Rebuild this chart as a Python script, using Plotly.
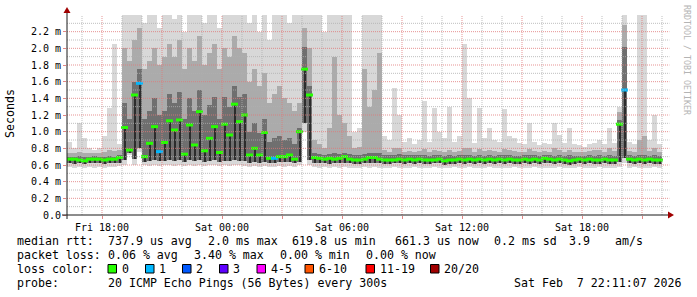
import plotly.graph_objects as go
import pandas as pd

# ------------------------------------------------------------------
# DATA  (round-trip times in milliseconds, one value per 15-min bin)
# ------------------------------------------------------------------
median = [
    0.67, 0.67, 0.66, 0.65, 0.67, 0.67, 0.67, 0.66, 0.67, 0.67,
    0.69, 1.05, 0.78, 1.44, 1.58, 0.70, 0.86, 1.06, 0.76, 0.87,
    1.13, 1.02, 1.14, 0.73, 1.08, 0.84, 1.24, 0.77, 0.92, 1.06,
    0.75, 1.09, 0.96, 1.33, 1.12, 1.20, 0.72, 0.80, 0.72, 0.99,
    0.68, 0.68, 0.70, 0.70, 0.72, 0.67, 1.00, 1.75, 1.44, 0.69,
    0.68, 0.67, 0.68, 0.67, 0.68, 0.70, 0.67, 0.66, 0.66, 0.67,
    0.69, 0.69, 0.67, 0.66, 0.66, 0.66, 0.67, 0.66, 0.67, 0.66,
    0.67, 0.66, 0.66, 0.66, 0.67, 0.65, 0.66, 0.66, 0.67, 0.66,
    0.67, 0.66, 0.67, 0.66, 0.67, 0.66, 0.67, 0.66, 0.67, 0.66,
    0.66, 0.67, 0.66, 0.67, 0.66, 0.68, 0.67, 0.66, 0.67, 0.66,
    0.65, 0.66, 0.67, 0.66, 0.67, 0.66, 0.66, 0.67, 0.66, 0.66,
    1.09, 1.50, 0.67, 0.66, 0.67, 0.66, 0.67, 0.66, 0.66,
]
lost_pings = [
    0, 0, 0, 0, 0, 0, 0, 0, 0, 0,
    0, 0, 0, 0, 1, 0, 0, 0, 1, 0,
    0, 0, 0, 0, 0, 0, 0, 0, 0, 0,
    0, 0, 0, 0, 0, 0, 0, 0, 0, 0,
    0, 1, 0, 0, 0, 0, 0, 0, 0, 0,
    0, 0, 0, 0, 0, 0, 0, 0, 0, 0,
    0, 0, 0, 0, 0, 0, 0, 0, 0, 0,
    0, 0, 0, 0, 0, 0, 0, 0, 0, 0,
    0, 0, 0, 0, 0, 0, 0, 0, 0, 0,
    0, 0, 0, 0, 0, 0, 0, 0, 0, 0,
    0, 0, 0, 0, 0, 0, 0, 0, 0, 0,
    0, 1, 0, 0, 0, 0, 0, 0, 0,
]
ping_min = [
    0.58, 0.57, 0.58, 0.57, 0.58, 0.57, 0.58, 0.57, 0.58, 0.58,
    0.59, 0.60, 0.72, 0.60, 0.76, 0.60, 0.59, 0.60, 0.59, 0.60,
    0.60, 0.59, 0.60, 0.59, 0.60, 0.59, 0.60, 0.59, 0.60, 0.60,
    0.59, 0.60, 0.59, 0.60, 0.60, 0.59, 0.58, 0.59, 0.58, 0.59,
    0.58, 0.58, 0.59, 0.58, 0.59, 0.58, 0.60, 1.00, 0.60, 0.58,
    0.57, 0.58, 0.56, 0.58, 0.57, 0.58, 0.57, 0.56, 0.57, 0.58,
    0.57, 0.58, 0.57, 0.56, 0.57, 0.58, 0.57, 0.57, 0.56, 0.58,
    0.57, 0.56, 0.57, 0.58, 0.57, 0.56, 0.57, 0.58, 0.56, 0.57,
    0.58, 0.57, 0.56, 0.57, 0.58, 0.57, 0.56, 0.57, 0.57, 0.58,
    0.57, 0.56, 0.57, 0.58, 0.57, 0.56, 0.57, 0.57, 0.58, 0.57,
    0.56, 0.57, 0.58, 0.57, 0.56, 0.57, 0.58, 0.57, 0.56, 0.57,
    0.58, 0.62, 0.57, 0.58, 0.57, 0.56, 0.57, 0.58, 0.57,
]
ping_low = [
    0.62, 0.61, 0.62, 0.61, 0.62, 0.62, 0.62, 0.61, 0.62, 0.62,
    0.63, 0.66, 0.75, 0.67, 0.80, 0.64, 0.65, 0.66, 0.65, 0.65,
    0.66, 0.65, 0.66, 0.64, 0.66, 0.65, 0.66, 0.64, 0.65, 0.66,
    0.64, 0.65, 0.65, 0.66, 0.65, 0.65, 0.63, 0.64, 0.63, 0.64,
    0.63, 0.63, 0.64, 0.64, 0.64, 0.63, 0.64, 1.10, 0.66, 0.63,
    0.62, 0.62, 0.61, 0.62, 0.62, 0.63, 0.62, 0.61, 0.61, 0.62,
    0.62, 0.63, 0.62, 0.61, 0.61, 0.62, 0.62, 0.61, 0.62, 0.61,
    0.62, 0.61, 0.61, 0.62, 0.62, 0.60, 0.61, 0.61, 0.62, 0.61,
    0.62, 0.61, 0.62, 0.61, 0.62, 0.61, 0.62, 0.61, 0.62, 0.61,
    0.61, 0.62, 0.61, 0.62, 0.61, 0.62, 0.62, 0.61, 0.62, 0.61,
    0.60, 0.61, 0.62, 0.61, 0.62, 0.61, 0.61, 0.62, 0.61, 0.61,
    0.64, 0.68, 0.62, 0.61, 0.62, 0.61, 0.62, 0.61, 0.61,
]
ping_p75 = [
    0.70, 0.70, 0.71, 0.70, 0.70, 0.71, 0.70, 0.70, 0.71, 0.70,
    0.72, 1.35, 1.15, 1.60, 1.75, 1.15, 1.25, 1.40, 1.20, 1.25,
    1.45, 1.35, 1.48, 1.15, 1.40, 1.25, 1.50, 1.20, 1.32, 1.42,
    1.15, 1.42, 1.30, 1.55, 1.42, 1.45, 1.00, 1.10, 0.98, 1.15,
    0.88, 0.92, 0.95, 0.90, 0.92, 0.85, 1.05, 2.02, 1.55, 0.74,
    0.73, 0.72, 0.73, 0.75, 0.73, 0.75, 0.73, 0.72, 0.72, 0.73,
    0.74, 0.75, 0.74, 0.72, 0.72, 0.72, 0.73, 0.72, 0.72, 0.72,
    0.72, 0.72, 0.71, 0.72, 0.72, 0.71, 0.72, 0.71, 0.72, 0.72,
    0.72, 0.71, 0.72, 0.71, 0.72, 0.71, 0.72, 0.72, 0.72, 0.71,
    0.71, 0.72, 0.72, 0.72, 0.71, 0.72, 0.72, 0.71, 0.72, 0.71,
    0.72, 0.71, 0.71, 0.71, 0.72, 0.71, 0.72, 0.71, 0.72, 0.71,
    1.14, 2.02, 0.72, 0.71, 0.72, 0.72, 0.71, 0.72, 0.71,
]
ping_p90 = [
    0.74, 0.75, 0.76, 0.74, 0.74, 0.75, 0.74, 0.76, 0.78, 0.77,
    0.78, 2.00, 1.85, 2.10, 2.25, 1.75, 1.85, 2.00, 1.80, 1.90,
    2.05, 1.90, 2.10, 1.75, 2.00, 1.85, 2.15, 1.80, 1.95, 2.05,
    1.75, 2.00, 1.90, 2.15, 2.00, 1.95, 1.60, 1.75, 1.55, 1.70,
    1.35, 1.45, 1.55, 1.40, 1.35, 1.25, 1.35, 2.25, 2.00, 0.90,
    0.85, 0.80, 1.05, 1.90, 1.20, 1.10, 0.95, 0.80, 0.82, 1.75,
    1.30, 1.50, 1.95, 0.78, 0.76, 0.80, 0.80, 0.76, 0.77, 0.76,
    0.77, 0.79, 0.76, 0.78, 0.77, 0.76, 0.78, 0.76, 0.77, 0.80,
    0.80, 0.76, 0.79, 0.77, 0.78, 0.77, 0.76, 0.79, 0.78, 0.77,
    0.76, 0.76, 0.79, 0.77, 0.76, 0.77, 0.76, 0.80, 0.78, 0.76,
    0.78, 0.76, 0.76, 0.76, 0.77, 0.78, 0.78, 0.76, 0.80, 0.77,
    1.24, 2.28, 0.77, 0.76, 0.90, 0.95, 0.77, 0.80, 0.76,
]
ping_max = [
    0.88, 0.80, 1.10, 0.92, 0.80, 0.78, 0.80, 0.95, 1.28, 2.05,
    0.85, 2.40, 2.40, 2.40, 2.40, 2.30, 2.40, 2.40, 2.25, 2.40,
    2.40, 2.35, 2.40, 2.20, 2.40, 2.40, 2.40, 2.30, 2.40, 2.40,
    2.25, 2.40, 2.40, 2.40, 2.40, 2.40, 2.30, 2.40, 2.20, 2.40,
    2.10, 2.40, 2.40, 2.40, 2.30, 2.40, 2.40, 2.40, 2.40, 2.40,
    2.40, 2.20, 2.40, 2.40, 2.40, 2.40, 2.40, 1.00, 1.05, 2.40,
    2.40, 2.40, 2.40, 0.95, 0.90, 1.52, 1.20, 0.88, 0.92, 0.85,
    0.90, 1.37, 0.88, 1.29, 1.00, 0.92, 1.30, 0.88, 0.95, 2.05,
    1.40, 0.86, 1.29, 0.92, 1.05, 0.90, 0.88, 1.27, 0.95, 0.92,
    0.86, 0.85, 1.10, 0.88, 0.84, 0.86, 0.85, 1.10, 0.96, 0.86,
    1.05, 0.85, 0.84, 0.82, 0.85, 0.86, 0.90, 0.85, 1.05, 0.86,
    1.30, 2.40, 0.88, 0.85, 2.40, 2.40, 0.90, 1.20, 0.85,
]

x_major_hours = [18, 21, 24, 27, 30, 33, 36, 39, 42, 45]
x_major_labels = ["Fri 18:00", "", "Sat 00:00", "", "Sat 06:00", "",
                  "Sat 12:00", "", "Sat 18:00", ""]
y_major_vals = [0.0, 0.2, 0.4, 0.6, 0.8, 1.0, 1.2, 1.4, 1.6, 1.8, 2.0, 2.2]
y_major_labels = ["0.0", "0.2 m", "0.4 m", "0.6 m", "0.8 m", "1.0 m",
                  "1.2 m", "1.4 m", "1.6 m", "1.8 m", "2.0 m", "2.2 m"]

loss_names = ["0", "1", "2", "3", "4-5", "6-10", "11-19", "20/20"]
loss_colors = ["#26ff00", "#00b8ff", "#0059ff", "#5e00ff",
               "#ff00ff", "#ff5500", "#ff0000", "#a10000"]

rtt_stats = ["median rtt:", "737.9 us avg", "2.0 ms max", "619.8 us min",
             "661.3 us now", "0.2 ms sd", "3.9", "am/s"]
loss_stats = ["packet loss:", "0.06 % avg", "3.40 % max", "0.00 % min", "0.00 % now"]
probe_text = ["probe:", "20 ICMP Echo Pings (56 Bytes) every 300s",
              "Sat Feb  7 22:11:07 2026"]

n = len(median)
for arr in (lost_pings, ping_min, ping_low, ping_p75, ping_p90, ping_max):
    assert len(arr) == n

# ------------------------------------------------------------------
# geometry / style
# ------------------------------------------------------------------
day0 = pd.Timestamp("2026-02-06 00:00")
t_start = pd.Timestamp("2026-02-06 16:15")
t_end = pd.Timestamp("2026-02-07 22:15")
step = pd.Timedelta(minutes=15)
times = [t_start + step * i + step / 2 for i in range(n)]
bin_ms = step.total_seconds() * 1000

L, T, W, H = 67, 15, 600, 200


def px(x):
    return (x - L) / W


def py(y):
    return (T + H - y) / H


MONO = "DejaVu Sans Mono"


def loss_color(k):
    if k <= 0:
        return loss_colors[0]
    if k == 1:
        return loss_colors[1]
    if k == 2:
        return loss_colors[2]
    if k == 3:
        return loss_colors[3]
    if k <= 5:
        return loss_colors[4]
    if k <= 10:
        return loss_colors[5]
    if k <= 19:
        return loss_colors[6]
    return loss_colors[7]


fig = go.Figure()


def band(lo, hi, color, width):
    fig.add_trace(go.Bar(
        x=times, y=[h - l for l, h in zip(lo, hi)], base=lo, width=width,
        marker=dict(color=color, line=dict(width=0)), hoverinfo="skip"))


band(ping_min, ping_max, "#d8d8d8", bin_ms * 1.03)
band(ping_low, ping_p90, "#ababab", bin_ms * 1.03)
band(ping_low, ping_p75, "#6f6f6f", bin_ms * 1.03)
band(ping_low, median, "#2c2c2c", bin_ms * 0.4)

fig.add_trace(go.Scatter(
    x=times, y=median, mode="markers", hoverinfo="skip",
    marker=dict(symbol="line-ew", size=5,
                line=dict(width=3, color=[loss_color(k) for k in lost_pings]))))

shapes = []
MINOR = "rgba(175,175,175,0.8)"
MAJOR = "rgba(225,120,120,0.8)"
# vertical grid (hourly minor, 3-hourly major)
for h in range(17, 47):
    xv = day0 + pd.Timedelta(hours=h)
    shapes.append(dict(type="line", xref="x", yref="paper", x0=xv, x1=xv,
                       y0=0, y1=1, layer="above",
                       line=dict(color=MAJOR if h % 3 == 0 else MINOR,
                                 width=1, dash="1px,1px")))
# horizontal grid
for k in range(1, 24):
    yv = k / 10
    shapes.append(dict(type="line", xref="paper", yref="y", x0=0, x1=1.004,
                       y0=yv, y1=yv, layer="above",
                       line=dict(color=MAJOR if k % 2 == 0 else MINOR,
                                 width=1, dash="1px,1px")))
# axes
AX = "#1a1a1a"
shapes.append(dict(type="line", xref="paper", yref="paper", x0=px(62), x1=px(669),
                   y0=py(215), y1=py(215), layer="above", line=dict(color=AX, width=1)))
shapes.append(dict(type="line", xref="paper", yref="paper", x0=px(67), x1=px(67),
                   y0=py(219), y1=py(12), layer="above", line=dict(color=AX, width=1)))
ARW = "#a00000"
shapes.append(dict(type="path", xref="paper", yref="paper", layer="above",
                   path="M {},{} L {},{} L {},{} Z".format(px(63.5), py(13), px(70.5), py(13), px(67), py(7)),
                   fillcolor=ARW, line=dict(color=ARW, width=0)))
shapes.append(dict(type="path", xref="paper", yref="paper", layer="above",
                   path="M {},{} L {},{} L {},{} Z".format(px(668), py(211.5), px(668), py(218.5), px(674), py(215)),
                   fillcolor=ARW, line=dict(color=ARW, width=0)))

annotations = []


def text(s, x, y, size=11.6, color="#000000", angle=0, xanchor="left"):
    annotations.append(dict(text=s, x=px(x), y=py(y), xref="paper", yref="paper",
                            xanchor=xanchor, yanchor="middle", showarrow=False,
                            borderpad=0, textangle=angle,
                            font=dict(family=MONO, size=size, color=color)))


rtt_x = [16, 107, 207, 291, 394, 493, 568, 614]
for s, x in zip(rtt_stats, rtt_x):
    text(s, x, 241)
loss_x = [16, 107, 193, 279, 365]
for s, x in zip(loss_stats, loss_x):
    text(s, x, 255)
text("loss color:", 16, 269)
box_x = [108, 145.5, 182.5, 219.5, 257, 305, 366, 430.5]
for name, col, bx in zip(loss_names, loss_colors, box_x):
    shapes.append(dict(type="rect", xref="paper", yref="paper", layer="above",
                       x0=px(bx), x1=px(bx + 8.5), y0=py(273), y1=py(264.5),
                       fillcolor=col, line=dict(color="#000000", width=1)))
    text(name, bx + 12.5, 269)
probe_x = [16, 107, 513]
for s, x in zip(probe_text, probe_x):
    text(s, x, 283)

text("Seconds", 10, 114, angle=-90, xanchor="center")
text("RRDTOOL / TOBI OETIKER", 687, 60, size=8.3, color="#b4b4b4", angle=90,
     xanchor="center")

fig.update_layout(
    width=697, height=297,
    margin=dict(l=L, r=697 - L - W, t=T, b=297 - T - H, pad=0),
    paper_bgcolor="#ffffff", plot_bgcolor="#ffffff",
    showlegend=False, barmode="overlay", bargap=0,
    shapes=shapes, annotations=annotations,
    font=dict(family=MONO, size=10, color="#000000"),
    xaxis=dict(type="date", range=[t_start, t_end], showgrid=False, zeroline=False,
               showline=False, tickmode="array",
               tickvals=[day0 + pd.Timedelta(hours=h) for h in x_major_hours],
               ticktext=x_major_labels, ticks="outside", ticklen=3,
               tickcolor="rgba(225,120,120,0.9)", tickwidth=1,
               tickfont=dict(family=MONO, size=10, color="#000000"),
               layer="above traces", fixedrange=True),
    yaxis=dict(range=[0, 2.4], showgrid=False, zeroline=False, showline=False,
               tickmode="array", tickvals=y_major_vals, ticktext=y_major_labels,
               ticks="outside", ticklen=3, tickcolor="rgba(225,120,120,0.9)",
               tickwidth=1, tickfont=dict(family=MONO, size=10, color="#000000"),
               layer="above traces", fixedrange=True),
)

fig.write_html("out.html", include_plotlyjs=True, config={"displayModeBar": False})
